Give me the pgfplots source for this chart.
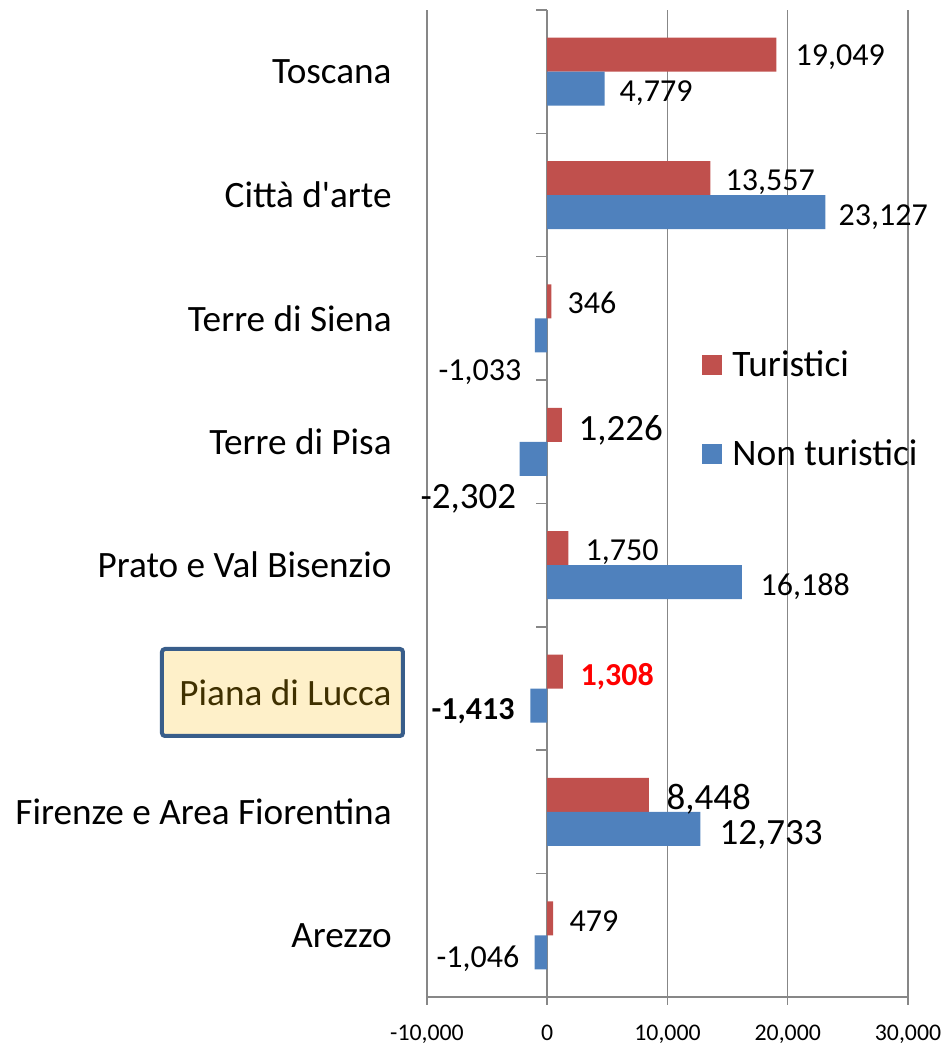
\documentclass[border=0pt]{standalone}
\usepackage{pgfplots}
\pgfplotsset{compat=1.18}
\usepackage{fontspec}
\setmainfont{Carlito}
\definecolor{tred}{HTML}{C0504D}
\definecolor{tblue}{HTML}{4F81BD}
\definecolor{gridgray}{HTML}{878787}
\definecolor{boxblue}{HTML}{385D8A}
\definecolor{boxfill}{HTML}{FEF0C9}
\definecolor{boxtext}{HTML}{3F3000}
\newcommand{\catfont}{\fontsize{18.6}{22}\selectfont}
\newcommand{\smallfont}{\fontsize{16}{19}\selectfont}
\newcommand{\bigfont}{\fontsize{18.5}{22}\selectfont}
\newcommand{\tickfont}{\fontsize{11.9}{14}\selectfont}
\begin{document}
\begin{tikzpicture}
\begin{axis}[
  scale only axis, width=240.5pt, height=493.5pt,
  xbar, bar width=0.2755,
  xmin=-10000, xmax=30000, ymin=-0.5, ymax=7.5,
  enlargelimits=false, clip=false,
  axis x line=bottom, axis y line=left,
  axis line style={gridgray, line width=0.75pt, -},
  xmajorgrids, major grid style={gridgray, line width=0.75pt},
  tick align=outside, major tick length=4pt,
  xtick={-10000,0,10000,20000,30000},
  xticklabels={{-10,000},{0},{10,000},{20,000},{30,000}},
  xtick style={gridgray, line width=0.75pt},
  xticklabel style={font=\tickfont, inner sep=0pt, text height=7.4pt, text depth=0pt, anchor=north, yshift=-10pt},
  ytick={0,1,2,3,4,5,6,7},
  yticklabels={Arezzo, Firenze e Area Fiorentina, {}, Prato e Val Bisenzio, Terre di Pisa, Terre di Siena, Citt\`a d\textquotesingle arte, Toscana},
  ytick style={draw=none},
  yticklabel style={font=\catfont, inner sep=0pt, anchor=east, xshift=-13.5pt},
  legend style={draw=none, fill=none, at={(rel axis cs:0.5717,0.5948)}, anchor=west,
    font=\fontsize{18.7}{22}\selectfont, row sep=30pt, column sep=5pt, inner sep=0pt, nodes={inner sep=0pt}},
  legend cell align=left,
]
\addplot[fill=tred, draw=none, bar shift=0.13775,
  legend image code/.code={\fill[tred] (0pt,-5pt) rectangle (10pt,5pt);}]
  coordinates {(479,0) (8448,1) (1308,2) (1750,3) (1226,4) (346,5) (13557,6) (19049,7)};
\addlegendentry{Turistici}
\addplot[fill=tblue, draw=none, bar shift=-0.13775,
  legend image code/.code={\fill[tblue] (0pt,-5pt) rectangle (10pt,5pt);}]
  coordinates {(-1046,0) (12733,1) (-1413,2) (16188,3) (-2302,4) (-1033,5) (23127,6) (4779,7)};
\addlegendentry{Non turistici}
\pgfplotsinvokeforeach{-0.5,0.5,1.5,2.5,3.5,4.5,5.5,6.5,7.5}{
  \draw[gridgray, line width=0.75pt] (axis cs:0,#1) -- ([xshift=-5.5pt]axis cs:0,#1);
}
\tikzset{lab/.style={anchor=west, inner sep=0pt, text depth=0pt}}
\node[lab, font=\smallfont] at (axis cs:20624,7.135) {19,049};
\node[lab, font=\smallfont] at (axis cs:5988,6.843) {4,779};
\node[lab, font=\smallfont] at (axis cs:14802,6.122) {13,557};
\node[lab, font=\smallfont] at (axis cs:24200,5.838) {23,127};
\node[lab, font=\smallfont] at (axis cs:1663,5.125) {346};
\node[lab, font=\smallfont] at (axis cs:-9064,4.582) {-1,033};
\node[lab, font=\bigfont] at (axis cs:2578,4.112) {1,226};
\node[lab, font=\bigfont] at (axis cs:-10561,3.553) {-2,302};
\node[lab, font=\smallfont] at (axis cs:3160,3.123) {1,750};
\node[lab, font=\smallfont] at (axis cs:17713,2.839) {16,188};
\node[lab, font=\smallfont\bfseries, text=red] at (axis cs:2744,2.118) {1,308};
\node[lab, font=\smallfont\bfseries] at (axis cs:-9647,1.834) {-1,413};
\node[lab, font=\bigfont] at (axis cs:9896,1.121) {8,448};
\node[lab, font=\bigfont] at (axis cs:14304,0.837) {12,733};
\node[lab, font=\smallfont] at (axis cs:1830,0.116) {479};
\node[lab, font=\smallfont] at (axis cs:-9231,-0.176) {-1,046};
\node[draw=boxblue, line width=2pt, fill=boxfill, rounded corners=1.5pt,
  minimum width=120.5pt, minimum height=43.5pt, inner sep=0pt, font=\catfont, text=boxtext]
  at ([xshift=-72.25pt]rel axis cs:0,0.3085) {\hspace{3pt}Piana di Lucca};
\coordinate (TL) at (rel axis cs:0,1);
\end{axis}
\pgfresetboundingbox
\path[use as bounding box] ([xshift=-213.5pt,yshift=5pt]TL) rectangle ([xshift=260.5pt,yshift=-519.5pt]TL);
\end{tikzpicture}
\end{document}
